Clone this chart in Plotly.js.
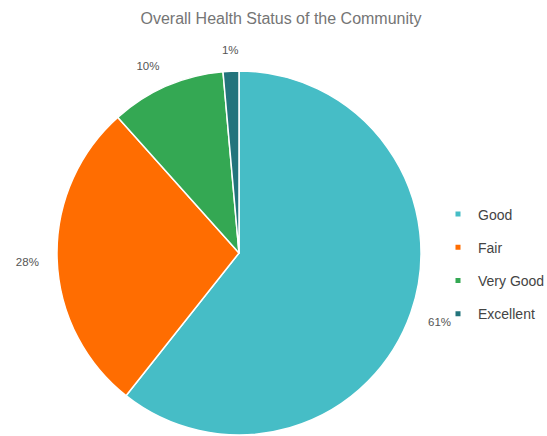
<!DOCTYPE html>
<html><head><meta charset="utf-8">
<script src="https://cdn.plot.ly/plotly-3.0.1.min.js"></script>
<style>html,body{margin:0;padding:0;background:#fff}#chart{width:547px;height:436px}</style>
</head><body><div id="chart"></div>
<script>
const categories = ["Good", "Fair", "Very Good", "Excellent"];
const values = [60.6, 27.7, 10.2, 1.4];
const colors = ["#46BDC6", "#FF6D01", "#34A853", "#23747C"];

const W = 547, H = 436;
const cx = 239, cy = 253, R = 182;   // pie centre and radius in pixels

const total = values.reduce((a, b) => a + b, 0);
const percentLabels = values.map(v => Math.round(v / total * 100) + "%");
// slice mid-angles (degrees clockwise from 12 o'clock), derived from the data
let acc = 0;
const midAngles = values.map(v => { const m = (acc + v / 2) / total * 360; acc += v; return m; });
const sector = a => {
  const names = ["top center", "top right", "middle right", "bottom right", "bottom center", "bottom left", "middle left", "top left"];
  return names[Math.round(((a % 360) + 360) % 360 / 45) % 8];
};
const labelR = 1.1;          // label distance, in pie radii
const labelDrop = 4 / R;     // small downward nudge of the labels

const pie = {
  type: "pie",
  labels: categories,
  values: values,
  sort: false,
  direction: "clockwise",
  rotation: 0,
  marker: {colors: colors, line: {color: "#ffffff", width: 1.5}},
  textinfo: "none",
  showlegend: false,
  hoverinfo: "label+percent",
  domain: {x: [(cx - R) / W, (cx + R) / W], y: [(H - cy - R) / H, (H - cy + R) / H]}
};

const labelTrace = {
  type: "scatter",
  mode: "text",
  x: midAngles.map(a => labelR * Math.sin(a * Math.PI / 180)),
  y: midAngles.map(a => labelR * Math.cos(a * Math.PI / 180) - labelDrop),
  text: percentLabels,
  textposition: midAngles.map(sector),
  textfont: {family: "Liberation Sans, Arial, sans-serif", size: 11.5, color: "#555555"},
  cliponaxis: false,
  showlegend: false,
  hoverinfo: "skip"
};

const legendTraces = categories.map((c, i) => ({
  type: "scatter",
  x: [null], y: [null],
  mode: "markers",
  name: c,
  legendgroup: "g" + i,
  marker: {symbol: "square", size: 5, color: colors[i]},
  showlegend: true,
  hoverinfo: "skip"
}));

const layout = {
  width: W, height: H,
  margin: {l: 0, r: 0, t: 0, b: 0, autoexpand: false},
  paper_bgcolor: "#ffffff",
  plot_bgcolor: "rgba(0,0,0,0)",
  title: {text: "Overall Health Status of the Community", x: 281/547, xanchor: "center", y: 1 - 18/436, yanchor: "middle",
          font: {family: "Liberation Sans, Arial, sans-serif", size: 16, color: "#757575"}},
  xaxis: {visible: false, range: [-cx / R, (W - cx) / R], fixedrange: true},
  yaxis: {visible: false, range: [-(H - cy) / R, cy / R], fixedrange: true},
  showlegend: true,
  legend: {x: 438/547, xanchor: "left", y: 0.5 - 46/436, yanchor: "middle",
           font: {family: "Liberation Sans, Arial, sans-serif", size: 14, color: "#444444"},
           tracegroupgap: 12, itemwidth: 30, bgcolor: "rgba(0,0,0,0)"}
};

Plotly.newPlot("chart", [pie, labelTrace, ...legendTraces], layout, {displayModeBar: false, staticPlot: true});
</script>
</body></html>
